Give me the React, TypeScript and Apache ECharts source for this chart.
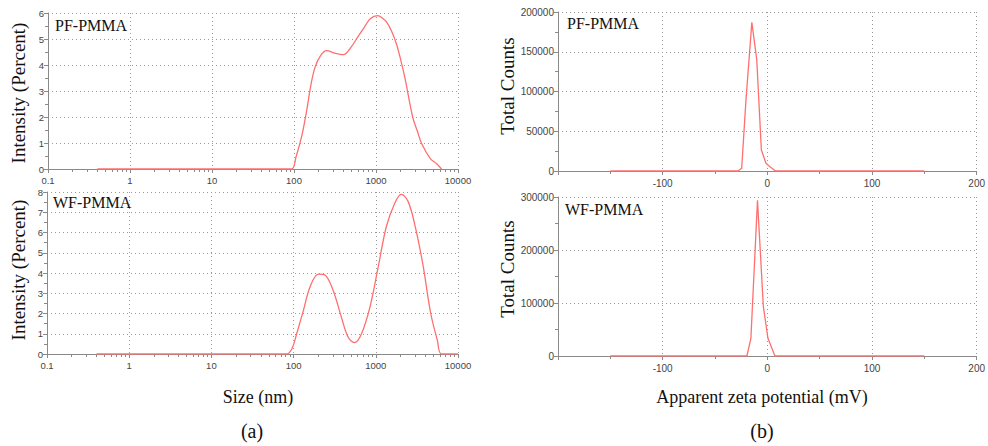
import React, { useEffect, useRef } from 'react';
import * as echarts from 'echarts';

// (a) size distributions (nm, intensity %)
const pfSize = [0.4, 1, 10, 50, 93, 106, 125, 143, 160, 180, 210, 250, 320, 400, 500, 600, 720, 850, 1050, 1200, 1350, 1550, 1780, 2000, 2240, 2800, 3200, 3600, 4600, 5500, 6300];
const pfIntensity = [0, 0, 0, 0, 0, 0.47, 1.3, 2.26, 3.2, 3.9, 4.35, 4.55, 4.45, 4.4, 4.7, 5.08, 5.45, 5.78, 5.9, 5.8, 5.65, 5.3, 4.8, 4.2, 3.54, 2.0, 1.45, 0.98, 0.4, 0.2, 0];

const wfSize = [0.4, 1, 10, 50, 83, 96, 109, 132, 158, 200, 240, 302, 380, 458, 550, 670, 850, 1070, 1340, 1690, 2040, 2460, 2960, 3720, 4660, 5600, 6300, 10000];
const wfIntensity = [0, 0, 0, 0, 0, 0.28, 1.0, 2.17, 3.3, 3.94, 3.9, 3.15, 1.84, 0.85, 0.56, 1.0, 2.33, 4.3, 6.27, 7.42, 7.88, 7.55, 6.44, 4.47, 2.0, 0.69, 0, 0];

// (b) zeta potential distributions (mV, total counts)
const pfZeta = [-150, -28, -24.5, -20.4, -14.8, -10.1, -5.7, -1.3, 2.5, 7.9, 150];
const pfCounts = [0, 0, 3360, 89500, 187000, 140000, 26500, 9660, 5460, 0, 0];

const wfZeta = [-150, -19.5, -15.7, -9.4, -3.8, 0.6, 7.3, 150];
const wfCounts = [0, 0, 33400, 293600, 93200, 33400, 0, 0];

const sizeTicks = ['0.1', '1', '10', '100', '1000', '10000'];
const panelNames = ['PF-PMMA', 'WF-PMMA'];

const SERIF = '"Liberation Serif", "Times New Roman", serif';
const SANS = '"Liberation Sans", Arial, sans-serif';
const LINE = '#ff6f6f';
const AXIS = '#8a8a8a';
const GRIDC = '#9a9a9a';

const pairs = (xs: number[], ys: number[]) => xs.map((x, i) => [x, ys[i]]);

export default function App() {
  const ref = useRef<HTMLDivElement>(null);
  useEffect(() => {
    document.body.style.margin = '0';
    const chart = echarts.init(ref.current!, null, { renderer: 'svg' });

    const splitLine = { show: true, lineStyle: { color: GRIDC, type: [1, 3], width: 1 } };
    const axisLine = { show: true, onZero: false, lineStyle: { color: AXIS, width: 1 } };
    const axisTick = { show: true, length: 4, lineStyle: { color: AXIS } };
    const minorTick = (n: number) => ({ show: true, splitNumber: n, length: 3, lineStyle: { color: AXIS } });

    const logX = (gi: number) => ({
      type: 'log', logBase: 10, gridIndex: gi, min: 0.1, max: 10000,
      axisLine, axisTick, minorTick: minorTick(9), splitLine,
      axisLabel: {
        fontFamily: SANS, fontSize: 9.5, color: '#444', margin: 6,
        formatter: (v: number) => sizeTicks.find((t) => Math.abs(parseFloat(t) - v) < 1e-6 * v) ?? '',
      },
    });
    const zetaX = (gi: number) => ({
      type: 'value', gridIndex: gi, min: -200, max: 200, interval: 100,
      axisLine, axisTick, minorTick: minorTick(2), splitLine,
      axisLabel: {
        fontFamily: SANS, fontSize: 10, color: '#444', margin: 7,
        formatter: (v: number) => (v === -200 ? '' : String(v)),
      },
    });
    const valY = (gi: number, max: number, interval: number, fs: number) => ({
      type: 'value', gridIndex: gi, min: 0, max, interval,
      axisLine, axisTick, minorTick: minorTick(2), splitLine,
      axisLabel: { fontFamily: SANS, fontSize: fs, color: '#444', margin: 4, formatter: (v: number) => String(v) },
    });

    const lineSeries = (xi: number, data: number[][], smooth: number | boolean) => ({
      type: 'line', xAxisIndex: xi, yAxisIndex: xi, data, smooth,
      symbol: 'none', lineStyle: { color: LINE, width: 1.3 }, z: 3,
    });

    const text = (x: number, y: number, t: string, size: number, rot = 0, align = 'center') => ({
      type: 'text', x, y, rotation: rot,
      style: { text: t, fontFamily: SERIF, fontSize: size, fill: '#111', textAlign: align, textVerticalAlign: 'middle' },
    });

    chart.setOption({
      animation: false,
      backgroundColor: '#fff',
      grid: [
        { left: 48, top: 13, width: 410, height: 156 },
        { left: 47, top: 192, width: 411, height: 162 },
        { left: 558, top: 12, width: 424, height: 159 },
        { left: 558, top: 197, width: 424, height: 159 },
      ],
      xAxis: [logX(0), logX(1), zetaX(2), zetaX(3)],
      yAxis: [valY(0, 6, 1, 9.5), valY(1, 8, 1, 9.5), valY(2, 200000, 50000, 10), valY(3, 300000, 100000, 10)],
      series: [
        lineSeries(0, pairs(pfSize, pfIntensity), 0.35),
        lineSeries(1, pairs(wfSize, wfIntensity), 0.35),
        lineSeries(2, pairs(pfZeta, pfCounts), false),
        lineSeries(3, pairs(wfZeta, wfCounts), false),
      ],
      graphic: [
        text(55, 25, panelNames[0], 16, 0, 'left'),
        text(53, 202, panelNames[1], 16, 0, 'left'),
        text(567, 23, panelNames[0], 16, 0, 'left'),
        text(565, 209, panelNames[1], 16, 0, 'left'),
        text(18, 93, 'Intensity (Percent)', 19, Math.PI / 2),
        text(18, 270, 'Intensity (Percent)', 19, Math.PI / 2),
        text(507, 86, 'Total Counts', 19, Math.PI / 2),
        text(507, 269, 'Total Counts', 19, Math.PI / 2),
        text(258, 397, 'Size (nm)', 18),
        text(762, 397, 'Apparent zeta potential (mV)', 18),
        text(252, 431, '(a)', 20),
        text(762, 431, '(b)', 20),
      ],
    });
    return () => chart.dispose();
  }, []);
  return <div ref={ref} style={{ position: 'absolute', left: 0, top: 0, width: 988, height: 446 }} />;
}
